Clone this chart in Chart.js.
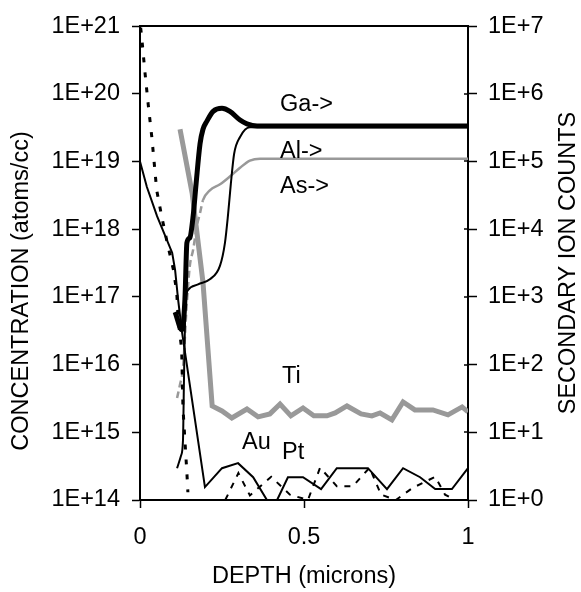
<!DOCTYPE html>
<html>
<head>
<meta charset="utf-8">
<script src="https://cdn.jsdelivr.net/npm/chart.js@4/dist/chart.umd.min.js"></script>
<style>
  body { margin: 0; background: #fff; }
  canvas { display: block; }
</style>
</head>
<body>
<canvas id="sims" width="581" height="592"></canvas>
<script>
// depth (microns) / values
const gaDepth = [0.107, 0.128, 0.137, 0.143, 0.152, 0.162, 0.171, 0.183, 0.192, 0.204, 0.223, 0.25, 0.274, 0.305, 0.326, 0.357, 1.0]
const gaCounts = [598, 327, 927, 6.3e3, 7.5e3, 1.56e4, 4.7e4, 1.82e5, 3.0e5, 3.95e5, 5.5e5, 6.1e5, 5.5e5, 4.1e5, 3.6e5, 3.34e5, 3.34e5]

const asDepth = [0.113, 0.125, 0.131, 0.134, 0.139, 0.146, 0.177, 0.213, 0.244, 0.259, 0.268, 0.277, 0.287, 0.305, 0.335, 1.0]
const asCounts = [2.94, 4.5, 7.5, 56.7, 838, 1.25e3, 1.53e3, 1.82e3, 2.9e3, 6.3e3, 1.56e4, 4.7e4, 1.3e5, 2.3e5, 3.2e5, 3.2e5]

const alDepth = [0.113, 0.122, 0.131, 0.143, 0.152, 0.162, 0.174, 0.183, 0.192, 0.213, 0.244, 0.274, 0.305, 0.335, 0.366, 1.0]
const alCounts = [32, 51, 88, 838, 2.9e3, 4.98e3, 1.16e4, 1.73e4, 2.68e4, 3.75e4, 4.6e4, 6.0e4, 8.1e4, 1.03e5, 1.1e5, 1.1e5]

const tiDepth = [0.122, 0.159, 0.192, 0.207, 0.22, 0.25, 0.28, 0.326, 0.36, 0.396, 0.427, 0.46, 0.497, 0.53, 0.57, 0.595, 0.631, 0.674, 0.707, 0.732, 0.768, 0.802, 0.838, 0.893, 0.939, 0.982, 1.0]
const tiCounts = [3.0e5, 3.4e4, 1.64e3, 172, 24.5, 20.7, 16.3, 22.1, 16.9, 18.7, 26.2, 17.5, 22.9, 17.5, 17.5, 19.3, 24.5, 18.7, 17.5, 19.3, 15.3, 28.0, 21.4, 21.4, 18.1, 23.7, 20]

const auDepth = [0, 0.021, 0.052, 0.098, 0.107, 0.116, 0.128, 0.198, 0.25, 0.299, 0.345, 0.387, 0.418, 0.451, 0.497, 0.552, 0.60, 0.695, 0.753, 0.802, 0.854, 0.90, 0.951, 1.0]
const auCounts = [1e5, 4.2e4, 1.56e4, 4.5e3, 2.5e3, 930, 305, 1.55, 2.95, 3.5, 2.17, 1.0, 1.0, 2.17, 2.17, 1.45, 2.95, 2.95, 1.45, 2.95, 2.17, 1.45, 1.45, 2.95]

const ptDepth = [0.26, 0.30, 0.335, 0.40, 0.457, 0.512, 0.549, 0.60, 0.649, 0.70, 0.735, 0.78, 0.83, 0.90, 0.93, 0.96]
const ptCounts = [1.0, 2.5, 1.17, 2.2, 1.2, 1.0, 3.0, 1.6, 1.6, 3.0, 1.2, 1.0, 1.5, 2.2, 1.2, 1.0]

// concentration profile (left axis)
const concDepth = [0.002, 0.005, 0.015, 0.025, 0.036, 0.051, 0.066, 0.081, 0.102, 0.112, 0.117, 0.127, 0.131, 0.137, 0.143, 0.146]
const concValues = [9.5e20, 7.0e20, 2.1e20, 7.0e19, 2.3e19, 3.75e18, 1.56e18, 7.0e17, 2.5e17, 1.17e17, 4.3e16, 1.7e16, 2.3e15, 7.5e14, 2.5e14, 1.3e14]

const concTicks = [1e14, 1e15, 1e16, 1e17, 1e18, 1e19, 1e20, 1e21]
const countTicks = [1, 1e1, 1e2, 1e3, 1e4, 1e5, 1e6, 1e7]
const depthTicks = [0, 0.5, 1]

// element labels on the plot (placed in depth / counts)
const labelTexts = ['Ga->', 'Al->', 'As->', 'Ti', 'Au', 'Pt']
const labelDepth = [0.427, 0.427, 0.427, 0.433, 0.311, 0.433]
const labelCounts = [7.0e5, 1.39e5, 4.3e4, 67, 7.0, 5.0]

const FONT = 'Liberation Sans, Arial, sans-serif'
const FS = 23.5
const GREY = '#999999'

function pts(xs, ys) {
    return xs.map((x, i) => ({ x: x, y: ys[i] }))
}

function expLabel(v) {
    const e = Math.round(Math.log10(v))
    return '1E+' + e
}

function vText(c, text, x, y) {
    c.save()
    c.translate(x, y)
    c.rotate(-Math.PI / 2)
    c.fillText(text, 0, 0)
    c.restore()
}

const frame = {
    id: 'frame',
    afterDraw(chart) {
        const c = chart.ctx
        const a = chart.chartArea
        const y1 = chart.scales.y1
        c.save()
        c.strokeStyle = '#000'
        c.lineWidth = 2
        c.beginPath()
        c.moveTo(a.left - 1, a.top)
        c.lineTo(a.right + 1, a.top)
        c.stroke()
        // right axis ticks also cross into the plot
        c.lineWidth = 1.5
        countTicks.forEach(v => {
            const py = Math.round(y1.getPixelForValue(v))
            c.beginPath()
            c.moveTo(a.right - 4, py)
            c.lineTo(a.right, py)
            c.stroke()
        })
        c.fillStyle = '#000'
        c.font = FS + 'px ' + FONT
        c.textAlign = 'left'
        c.textBaseline = 'middle'
        labelTexts.forEach((t, i) => {
            c.fillText(t, chart.scales.x.getPixelForValue(labelDepth[i]), y1.getPixelForValue(labelCounts[i]))
        })
        // axis titles, both read bottom to top
        c.textAlign = 'center'
        vText(c, 'CONCENTRATION (atoms/cc)', 22, 291)
        vText(c, 'SECONDARY ION COUNTS', 569, (a.top + a.bottom) / 2)
        c.restore()
    }
}

const ctx = document.getElementById('sims').getContext('2d')

new Chart(ctx, {
    type: 'line',
    data: {
        datasets: [
            { data: pts(gaDepth, gaCounts), yAxisID: 'y1', borderColor: '#000', borderWidth: 5, cubicInterpolationMode: 'monotone' },
            { data: pts(asDepth, asCounts), yAxisID: 'y1', borderColor: '#000', borderWidth: 2, cubicInterpolationMode: 'monotone' },
            { data: pts(auDepth, auCounts), yAxisID: 'y1', borderColor: '#000', borderWidth: 2 },
            { data: pts(ptDepth, ptCounts), yAxisID: 'y1', borderColor: '#000', borderWidth: 2, borderDash: [6, 7] },
            { data: pts(concDepth, concValues), yAxisID: 'y', borderColor: '#000', borderWidth: 3, borderDash: [5, 10] },
            {
                data: pts(alDepth, alCounts), yAxisID: 'y1', borderColor: GREY, borderWidth: 2.5, cubicInterpolationMode: 'monotone',
                segment: { borderDash: s => s.p1.parsed.x < 0.2 ? [7, 4] : undefined }
            },
            { data: pts(tiDepth, tiCounts), yAxisID: 'y1', borderColor: GREY, borderWidth: 5 }
        ]
    },
    options: {
        responsive: false,
        animation: false,
        events: [],
        layout: { padding: { top: 21, left: 0, right: 0, bottom: 0 } },
        elements: { point: { radius: 0 }, line: { tension: 0 } },
        plugins: {
            legend: { display: false },
            tooltip: { enabled: false }
        },
        scales: {
            x: {
                type: 'linear',
                min: 0,
                max: 1,
                afterBuildTicks: s => { s.ticks = depthTicks.map(v => ({ value: v })) },
                afterFit: s => { s.height = 92 },
                ticks: { color: '#000', font: { family: FONT, size: FS }, padding: 15, callback: v => String(v) },
                grid: { drawOnChartArea: false, tickLength: 8, color: '#000', tickWidth: 1.5 },
                border: { color: '#000', width: 2 },
                title: { display: true, text: 'DEPTH (microns)', color: '#000', font: { family: FONT, size: FS }, padding: { top: 0, bottom: 1 } }
            },
            y: {
                type: 'logarithmic',
                position: 'left',
                min: 1e14,
                max: 1e21,
                afterBuildTicks: s => { s.ticks = concTicks.map(v => ({ value: v })) },
                afterFit: s => { s.width = 140 },
                ticks: { color: '#000', font: { family: FONT, size: FS }, padding: 12, callback: v => expLabel(v) },
                grid: { drawOnChartArea: false, tickLength: 8, color: '#000', tickWidth: 1.5 },
                border: { color: '#000', width: 2 }
            },
            y1: {
                type: 'logarithmic',
                position: 'right',
                min: 1,
                max: 1e7,
                afterBuildTicks: s => { s.ticks = countTicks.map(v => ({ value: v })) },
                afterFit: s => { s.width = 113 },
                ticks: { color: '#000', font: { family: FONT, size: FS }, padding: 11, callback: v => expLabel(v) },
                grid: { drawOnChartArea: false, tickLength: 9, color: '#000', tickWidth: 1.5 },
                border: { color: '#000', width: 2 }
            }
        }
    },
    plugins: [frame]
});
</script>
</body>
</html>
